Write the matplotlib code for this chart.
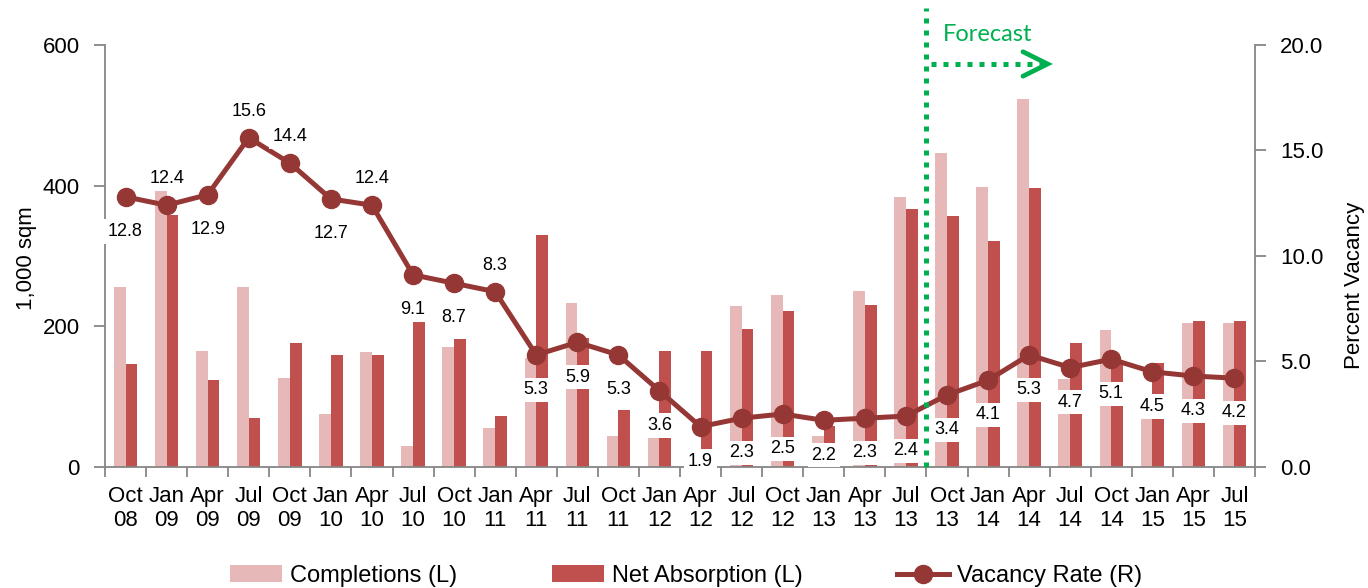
import matplotlib
matplotlib.use("Agg")
import matplotlib.pyplot as plt
import matplotlib.transforms as mtransforms
from matplotlib.patches import Patch
from matplotlib.lines import Line2D

plt.rcParams['font.family'] = ['Liberation Sans', 'DejaVu Sans']

# ---------------- data ----------------
quarters = ["Oct\n08", "Jan\n09", "Apr\n09", "Jul\n09", "Oct\n09", "Jan\n10", "Apr\n10",
            "Jul\n10", "Oct\n10", "Jan\n11", "Apr\n11", "Jul\n11", "Oct\n11", "Jan\n12",
            "Apr\n12", "Jul\n12", "Oct\n12", "Jan\n13", "Apr\n13", "Jul\n13", "Oct\n13",
            "Jan\n14", "Apr\n14", "Jul\n14", "Oct\n14", "Jan\n15", "Apr\n15", "Jul\n15"]
completions = [256, 392, 165, 256, 126, 75, 163, 29, 171, 55, 154, 233, 44, 42,
               7, 228, 245, 44, 250, 384, 447, 398, 523, 125, 194, 100, 205, 205]
net_absorption = [146, 358, 123, 69, 176, 159, 159, 207, 182, 72, 330, 183, 80, 165,
                  165, 196, 222, 58, 230, 367, 356, 321, 396, 176, 152, 148, 208, 208]
vacancy = [12.8, 12.4, 12.9, 15.6, 14.4, 12.7, 12.4, 9.1, 8.7, 8.3, 5.3, 5.9, 5.3, 3.6,
           1.9, 2.3, 2.5, 2.2, 2.3, 2.4, 3.4, 4.1, 5.3, 4.7, 5.1, 4.5, 4.3, 4.2]
label_above = ["Jan\n09", "Jul\n09", "Oct\n09", "Apr\n10", "Jan\n11"]
forecast_start = 19.5  # boundary between Jul 13 and Oct 13

# ---------------- style ----------------
C_PINK = "#E6B9B8"
C_RED = "#C0504D"
C_LINE = "#953735"
C_GREEN = "#00B050"
C_AXIS = "#868686"

fig = plt.figure(figsize=(13.68, 5.88), dpi=100)
ax = fig.add_axes([105/1368, 1 - 466.7/588, 1150/1368, 421.7/588])
ax2 = ax.twinx()

x = list(range(len(quarters)))
w = 0.285
ax.bar([i - w/2 for i in x], completions, width=w, color=C_PINK, zorder=2)
ax.bar([i + w/2 for i in x], net_absorption, width=w, color=C_RED, zorder=2)

ax.set_xlim(-0.5, len(quarters) - 0.5)
ax.set_ylim(0, 600)
ax.set_yticks([0, 200, 400, 600])
ax2.set_ylim(0, 20)
ax2.set_yticks([0, 5, 10, 15, 20])
ax2.set_yticklabels([f"{v:.1f}" for v in [0, 5, 10, 15, 20]])

ax.set_xticks(x)
ax.set_xticklabels(quarters, fontsize=16, linespacing=1.2)
ax.set_xticks([i - 0.5 for i in range(len(quarters) + 1)], minor=True)
ax.tick_params(axis='x', which='major', length=0, pad=14)
ax.tick_params(axis='x', which='minor', length=7, width=1.3, color=C_AXIS, direction='out')
ax.tick_params(axis='y', length=8, width=1.3, color=C_AXIS, labelsize=16, pad=10)
ax2.tick_params(axis='y', length=8, width=1.3, color=C_AXIS, labelsize=16, pad=10)

for a in (ax, ax2):
    for s in a.spines.values():
        s.set_color(C_AXIS)
        s.set_linewidth(1.3)
    a.spines['top'].set_visible(False)
ax.spines['right'].set_visible(False)
ax2.spines['left'].set_visible(False)
ax2.spines['bottom'].set_visible(False)

ax.set_ylabel("1,000 sqm", fontsize=16)
ax.yaxis.set_label_coords(-0.059, 0.495)
ax2.set_ylabel("Percent Vacancy", fontsize=16)
ax2.yaxis.set_label_coords(1.077, 0.431)

# vacancy line
ax2.plot(x, vacancy, color=C_LINE, linewidth=3.6, marker='o', markersize=13, zorder=5)
for i, v in enumerate(vacancy):
    above = quarters[i] in label_above
    ax2.annotate(f"{v:.1f}", (i, v), xytext=(0, 19 if above else -25),
                 textcoords='offset points', ha='center', va='center', fontsize=13,
                 bbox=dict(boxstyle='square,pad=0.2', fc='white', ec='none'),
                 zorder=10, annotation_clip=False)

# forecast marker
trans = mtransforms.blended_transform_factory(ax2.transData, ax2.transAxes)
ax2.plot([forecast_start, forecast_start], [0, 1.088], transform=trans, color=C_GREEN,
         linewidth=3.6, linestyle=(0, (1, 1.4)), clip_on=False, zorder=8,
         solid_capstyle='butt', dash_capstyle='butt')
ax2.plot([forecast_start + 0.12, 22.35], [0.955, 0.955], transform=trans, color=C_GREEN,
         linewidth=3.6, linestyle=(0, (1, 1.4)), clip_on=False, zorder=8,
         dash_capstyle='butt')
ax2.plot([21.85, 22.45, 21.85], [0.984, 0.955, 0.926], transform=trans, color=C_GREEN,
         linewidth=3.4, clip_on=False, zorder=8, solid_capstyle='round',
         solid_joinstyle='miter')
ax2.text(21.0, 1.024, "Forecast", transform=trans, color=C_GREEN, fontsize=17,
         family=['Lato', 'DejaVu Sans'], ha='center', va='center')

# legend
handles = [Patch(facecolor=C_PINK, edgecolor='none'),
           Patch(facecolor=C_RED, edgecolor='none'),
           Line2D([], [], color=C_LINE, linewidth=3.6, marker='o', markersize=13)]
fig.legend(handles, ["Completions (L)", "Net Absorption (L)", "Vacancy Rate (R)"],
           loc='center', bbox_to_anchor=(0.5015, 12/588), ncol=3, frameon=False,
           fontsize=17, handlelength=2.2, handletextpad=0.35, columnspacing=4.0,
           borderpad=0, borderaxespad=0)

fig.savefig("out.png", dpi=100)
